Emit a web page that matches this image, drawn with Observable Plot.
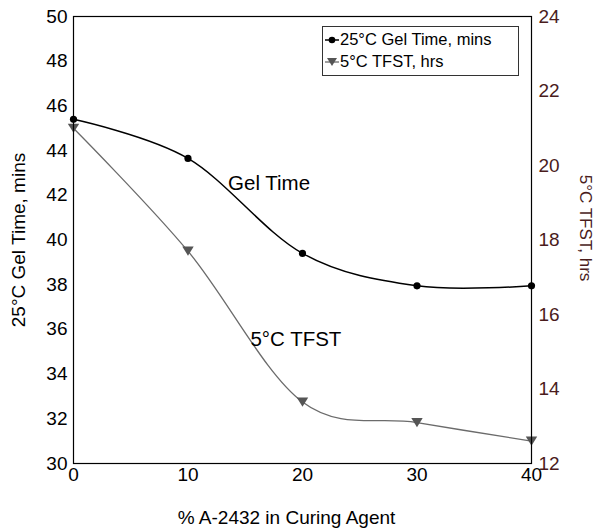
<!DOCTYPE html>
<html>
<head>
<meta charset="utf-8">
<script src="https://cdn.jsdelivr.net/npm/d3@7"></script>
<script src="https://cdn.jsdelivr.net/npm/@observablehq/plot@0.6"></script>
<style>
  html, body { margin: 0; padding: 0; background: #fff; }
  #wrap { position: relative; width: 597px; height: 531px; font-family: "Liberation Sans", Arial, sans-serif; }
  #legend { position: absolute; left: 322px; top: 26px; width: 197px; height: 50px; border: 1px solid #333; background: #fff; box-sizing: border-box; }
  .row { position: absolute; left: 2px; display: flex; align-items: center; font-size: 16.5px; color: #000; white-space: nowrap; }
  .row svg { margin-right: 1px; }
</style>
</head>
<body>
<div id="wrap"></div>
<script>
// ---- data ----
const pctA2432 = [0, 10, 20, 30, 40];
const gelTime25C = [45.4, 43.65, 39.4, 37.95, 37.95];
const tfst5C = [21.0, 17.7, 13.65, 13.1, 12.6];
const leftTicks = [30, 32, 34, 36, 38, 40, 42, 44, 46, 48, 50];
const rightTicks = [12, 14, 16, 18, 20, 22, 24];
const xTicks = [0, 10, 20, 30, 40];
const seriesNames = ["25°C Gel Time, mins", "5°C TFST, hrs"];
const annotations = [
  {x: 13.5, y: 42.55, text: "Gel Time"},
  {x: 15.45, y: 35.55, text: "5°C TFST"}
];

const brown = "#4a1c1c";
const grayLine = "#6b6b6b";
const grayMark = "#555555";
const toLeft = r => 30 + (r - 12) * 20 / 12;
const toRight = l => 12 + (l - 30) * 12 / 20;

const gelData = pctA2432.map((x, i) => ({x, y: gelTime25C[i]}));
const tfstData = pctA2432.map((x, i) => ({x, y: toLeft(tfst5C[i])}));

const triDown = {
  draw(ctx, size) {
    const s = Math.sqrt(size);
    const w = s * 0.62, h = s * 0.5;
    ctx.moveTo(-w, -h);
    ctx.lineTo(w, -h);
    ctx.lineTo(0, h);
    ctx.closePath();
  }
};

const smooth = d3.curveCardinal.tension(0);

const plot = Plot.plot({
  width: 597,
  height: 531,
  marginLeft: 73,
  marginRight: 66,
  marginTop: 16,
  marginBottom: 68,
  style: {fontFamily: "'Liberation Sans', Arial, sans-serif", fontSize: "19px", background: "#fff", color: "#000"},
  x: {domain: [0, 40]},
  y: {domain: [30, 50]},
  marks: [
    Plot.axisY({ticks: leftTicks, tickSize: 0, tickPadding: 6, label: null, fontSize: 19}),
    Plot.axisY({ticks: rightTicks.map(toLeft), tickFormat: d => String(Math.round(toRight(d))), anchor: "right", tickSize: 0, tickPadding: 7, label: null, fill: brown, fontSize: 19}),
    Plot.axisX({ticks: xTicks, tickSize: 0, tickPadding: 4, label: null, fontSize: 19}),
    Plot.line(tfstData, {x: "x", y: "y", curve: smooth, stroke: grayLine, strokeWidth: 1.3}),
    Plot.dot(tfstData, {x: "x", y: "y", symbol: triDown, r: 5.2, fill: grayMark, stroke: "none"}),
    Plot.line(gelData, {x: "x", y: "y", curve: smooth, stroke: "#000", strokeWidth: 1.5}),
    Plot.dot(gelData, {x: "x", y: "y", r: 3.6, fill: "#000", stroke: "none"}),
    Plot.text(annotations, {x: "x", y: "y", text: "text", textAnchor: "start", fontSize: 20.5, fill: "#000"}),
    Plot.frame({stroke: "#000", strokeWidth: 1.2}),
    Plot.text(["25°C Gel Time, mins"], {frameAnchor: "left", dx: -55, rotate: -90, textAnchor: "middle", lineAnchor: "middle", fontSize: 19, fill: "#000"}),
    Plot.text(["5°C TFST, hrs"], {frameAnchor: "right", dx: 54, dy: -12, rotate: 90, textAnchor: "middle", lineAnchor: "middle", fontSize: 17, fill: brown}),
    Plot.text(["% A-2432 in Curing Agent"], {frameAnchor: "bottom", dy: 54, dx: -16, textAnchor: "middle", lineAnchor: "middle", fontSize: 19, fill: "#000"})
  ]
});

const wrap = document.getElementById("wrap");
wrap.appendChild(plot);

const legend = document.createElement("div");
legend.id = "legend";
const sym = [
  '<svg width="14" height="12"><line x1="0" y1="6" x2="14" y2="6" stroke="#000" stroke-width="1.5"/><circle cx="7" cy="6" r="3.3" fill="#000"/></svg>',
  '<svg width="14" height="12"><line x1="0" y1="6" x2="14" y2="6" stroke="' + grayLine + '" stroke-width="1.3"/><path d="M2,2 L12,2 L7,10 Z" fill="' + grayMark + '"/></svg>'
];
seriesNames.forEach((name, i) => {
  const row = document.createElement("div");
  row.className = "row";
  row.style.top = (i === 0 ? 3 : 25) + "px";
  row.innerHTML = sym[i] + "<span>" + name + "</span>";
  legend.appendChild(row);
});
wrap.appendChild(legend);
</script>
</body>
</html>
